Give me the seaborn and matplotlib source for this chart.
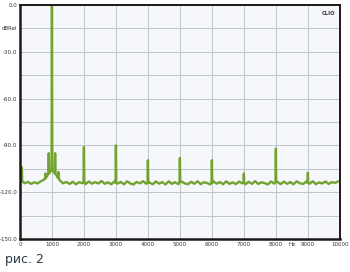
import numpy as np
import pandas as pd
import matplotlib
matplotlib.use("Agg")
import matplotlib.pyplot as plt
import seaborn as sns

# Noise floor (dB) read at 50, 150, ..., 9950 Hz
floor_hz = list(range(50, 10000, 100))
floor_db = [-112.8, -114.2, -113.4, -114.6, -113.6, -114.4, -113.0, -112.0, -109.5, -106.5,
            -107.0, -109.5, -112.5, -114.3, -113.4, -114.7, -113.3, -114.9, -113.6, -114.2,
            -114.8, -113.1, -114.5, -113.5, -114.4, -112.8, -114.6, -113.6, -114.9, -113.2,
            -114.5, -113.4, -114.9, -113.0, -114.4, -115.0, -113.4, -114.3, -112.9, -114.6,
            -113.8, -114.9, -113.1, -114.5, -113.5, -115.0, -113.0, -114.6, -113.6, -114.8,
            -113.2, -114.3, -114.9, -113.3, -114.6, -113.0, -114.8, -113.6, -114.1, -115.0,
            -113.1, -114.5, -113.5, -114.9, -113.0, -114.6, -113.7, -114.8, -113.2, -114.3,
            -114.9, -113.3, -114.6, -112.9, -114.7, -113.6, -114.2, -115.0, -113.1, -114.5,
            -113.4, -114.8, -113.2, -114.6, -113.5, -114.9, -113.0, -114.2, -114.7, -113.2,
            -114.6, -113.0, -114.8, -113.7, -114.4, -113.1, -114.7, -113.5, -114.0, -113.0]

# Spectral lines: frequency, top level and base level on each side
peak_hz = [60, 800, 900, 1000, 1100, 1200, 2000, 3000, 4000, 5000, 6000, 7000, 8000, 9000]
peak_db = [-104.0, -108.0, -95.0, 0.0, -95.0, -107.0, -91.0, -90.0, -99.5, -98.0, -99.5, -108.0, -92.0, -107.5]
peak_base_db = [-113.0, -111.0, -108.0, -106.0, -108.0, -111.0, -113.5, -114.0, -114.0, -113.5, -114.0, -114.0, -113.5, -114.0]
peak_half_width_hz = 12

y_ticks = [0, -15, -30, -45, -60, -75, -90, -105, -120, -135, -150]
y_labels = ["0.0", "dBRel", "-30.0", "", "-60.0", "", "-90.0", "", "-120.0", "", "-150.0"]
x_ticks = [0, 1000, 2000, 3000, 4000, 5000, 6000, 7000, 8000, 9000, 10000]
x_labels = ["0", "1000", "2000", "3000", "4000", "5000", "6000", "7000", "8000", "9000", "10000"]

hz = list(floor_hz)
db = list(floor_db)
for f, top, base in zip(peak_hz, peak_db, peak_base_db):
    hz += [f - peak_half_width_hz, f, f + peak_half_width_hz]
    db += [base, top, base]
df = pd.DataFrame({"hz": hz, "db": db}).sort_values("hz", kind="stable")

sns.set_style("white")
fig = plt.figure(figsize=(3.5, 2.72), dpi=100)
fig.patch.set_facecolor("white")
ax = fig.add_axes([0.057, 0.121, 0.914, 0.861])
ax.set_facecolor("#f5f7fb")

sns.lineplot(data=df, x="hz", y="db", ax=ax, color="#72a230", linewidth=1.7, sort=False)

ax.set_xlim(0, 10000)
ax.set_ylim(-150, 0)
ax.set_xticks(x_ticks)
ax.set_xticklabels(x_labels)
ax.set_yticks(y_ticks)
ax.set_yticklabels(y_labels)
ax.tick_params(axis="both", labelsize=4, length=0, pad=2, colors="#333333")
ax.grid(True, color="#b8bcc4", linewidth=0.6)
ax.set_xlabel("")
ax.set_ylabel("")
for s in ax.spines.values():
    s.set_visible(True)
    s.set_color("#1a1a1a")
    s.set_linewidth(1.4)
ax.spines["left"].set_linewidth(1.8)
ax.spines["bottom"].set_linewidth(1.8)

ax.text(8500, -152, "Hz", fontsize=4, ha="center", va="top", color="#333333")
ax.text(0.985, 0.975, "CLIO", transform=ax.transAxes, fontsize=3.8, ha="right", va="top",
        color="#333333", fontweight="bold")
fig.text(0.014, 0.045, "рис. 2", fontsize=9, ha="left", va="center", color="#2a3a4a")

fig.savefig("out.png", dpi=100)
